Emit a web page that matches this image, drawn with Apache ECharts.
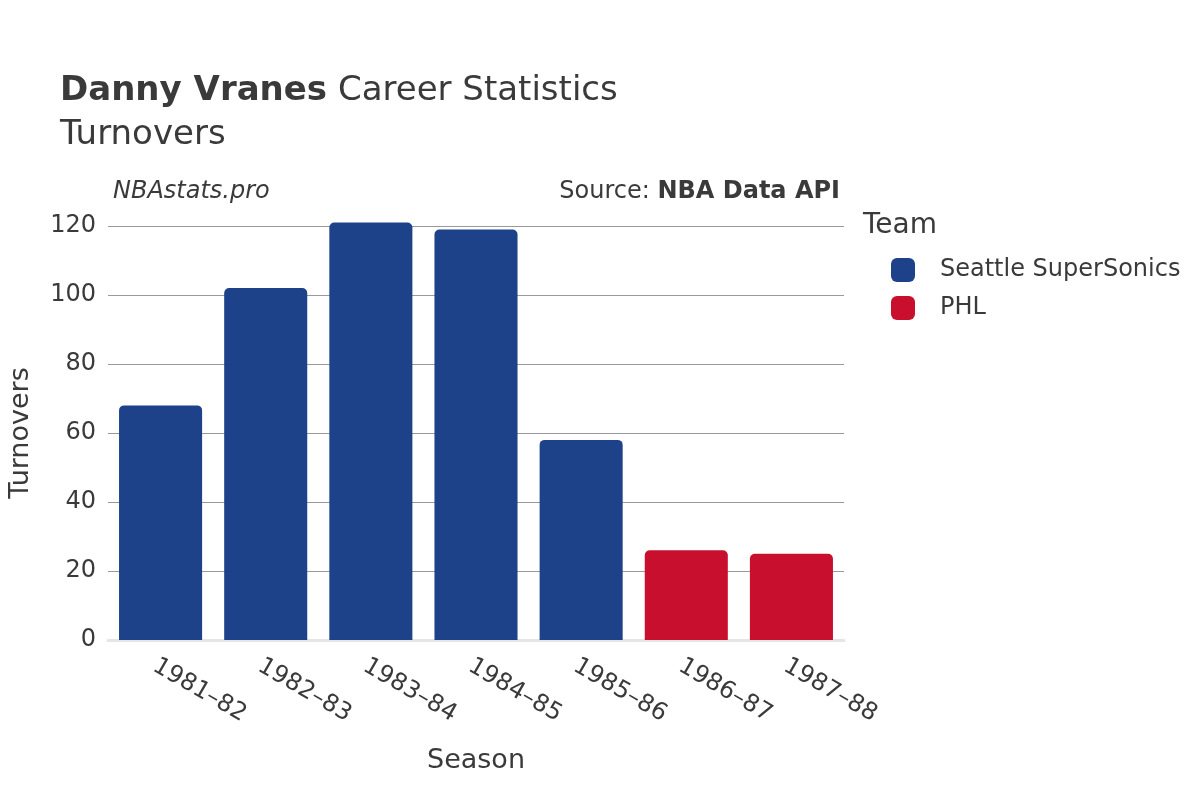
<!DOCTYPE html>
<html><head><meta charset="utf-8">
<script src="https://cdn.jsdelivr.net/npm/echarts@6/dist/echarts.min.js"></script>
<style>html,body{margin:0;padding:0;background:#fff}#c{width:1200px;height:800px}</style>
</head><body><div id="c"></div>
<script>
const seasons = ['1981–82','1982–83','1983–84','1984–85','1985–86','1986–87','1987–88'];
const sonics = [68, 102, 121, 119, 58, '-', '-'];
const phl = ['-', '-', '-', '-', '-', 26, 25];
const yTicks = [0, 20, 40, 60, 80, 100, 120];
const F = 'DejaVu Sans';
const chart = echarts.init(document.getElementById('c'));
chart.setOption({
  animation: false,
  textStyle: {fontFamily: F},
  graphic: [
    {type:'text', left:60, top:74, style:{text:'{b|Danny Vranes} Career Statistics', fill:'#3a3a3a', font:'34px '+F, rich:{b:{font:'bold 34px '+F, fill:'#3a3a3a'}}}},
    {type:'text', left:60, top:118, style:{text:'Turnovers', fill:'#3a3a3a', font:'34px '+F}},
    {type:'text', left:113, top:180, style:{text:'NBAstats.pro', fill:'#3a3a3a', font:'italic 24px '+F}},
    {type:'text', right:360, top:180, style:{text:'Source: {b|NBA Data API}', fill:'#3a3a3a', font:'24px '+F, align:'right', rich:{b:{font:'bold 24px '+F, fill:'#3a3a3a'}}}},
    {type:'text', left:863, top:212, style:{text:'Team', fill:'#3a3a3a', font:'28px '+F}}
  ],
  legend: {
    orient:'vertical', left:886, top:253, itemWidth:24, itemHeight:24, itemGap:14,
    icon:'roundRect', textStyle:{fontSize:24, color:'#3a3a3a', padding:[0,0,0,20]},
    data:['Seattle SuperSonics','PHL']
  },
  grid: {left:108, right:356, top:226, bottom:160, containLabel:false, outerBoundsMode:'none'},
  xAxis: {
    type:'category', data:seasons, name:'Season', nameLocation:'middle', nameGap:107,
    nameTextStyle:{fontSize:27, color:'#3a3a3a'},
    axisLine:{lineStyle:{color:'#e5e5e5', width:3}}, axisTick:{show:false},
    axisLabel:{rotate:-30, fontSize:24, color:'#3a3a3a', margin:14, align:'left', verticalAlign:'top'}
  },
  yAxis: {
    type:'value', min:0, max:120, interval:20, name:'Turnovers', nameLocation:'middle', nameGap:74,
    nameTextStyle:{fontSize:27, color:'#3a3a3a'},
    axisLabel:{fontSize:24, color:'#3a3a3a', margin:12},
    splitLine:{lineStyle:{color:'#999', width:1}}
  },
  series: [
    {name:'Seattle SuperSonics', type:'bar', stack:'a', data:sonics, barWidth:'79%', clip:false,
     itemStyle:{color:'#1d428a', borderRadius:[5,5,0,0]}},
    {name:'PHL', type:'bar', stack:'a', data:phl, barWidth:'79%', clip:false,
     itemStyle:{color:'#c8102e', borderRadius:[5,5,0,0]}}
  ]
});
</script></body></html>
